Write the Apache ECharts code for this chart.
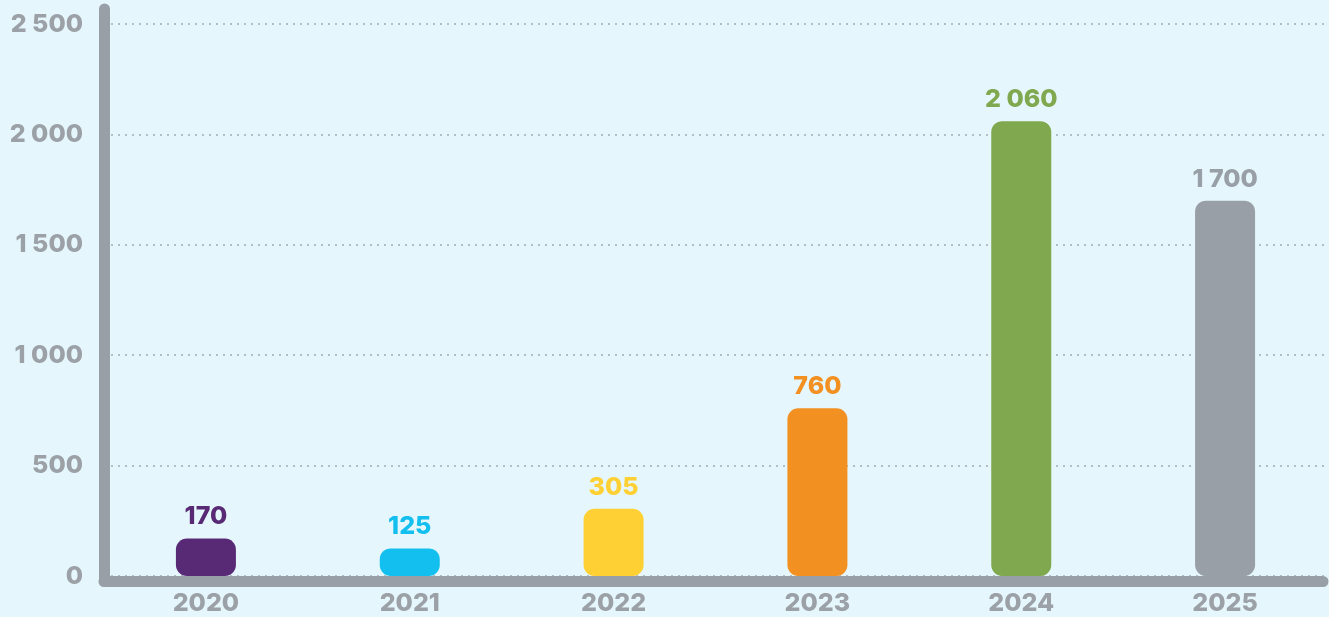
<!DOCTYPE html>
<html>
<head>
<meta charset="utf-8">
<script src="https://cdn.jsdelivr.net/npm/echarts@6/dist/echarts.min.js"></script>
<style>
  html, body { margin: 0; padding: 0; background: #e5f7fc; }
  #chart { width: 1329px; height: 617px; }
</style>
</head>
<body>
<div id="chart"></div>
<script>
const years = ["2020", "2021", "2022", "2023", "2024", "2025"];
const values = [170, 125, 305, 760, 2060, 1700];
const yTicks = [0, 500, 1000, 1500, 2000, 2500];

const barColors = ["#582a76", "#13bfee", "#ffd033", "#f29022", "#80a84f", "#989fa6"];
const axisGray = "#989fa6";
const textGray = "#9ba1a7";
const font = "Inter, 'Open Sans', sans-serif";

function spaced(v) {
  return String(v).replace(/\B(?=(\d{3})+(?!\d))/g, "\u00a0");
}

const chart = echarts.init(document.getElementById("chart"));

// frame lines drawn on a second grid so the y axis runs a bit above 2 500
function frameLine() {
  return { show: true, lineStyle: { color: axisGray, width: 11, cap: "round" } };
}

chart.setOption({
  backgroundColor: "#e5f7fc",
  textStyle: { fontFamily: font },
  grid: [
    { left: 104, right: 2, top: 24, bottom: 41 },
    { left: 104, right: 6, top: 9, bottom: 36 },
  ],
  xAxis: [
    {
      type: "category",
      gridIndex: 0,
      data: years,
      axisLine: { show: false },
      axisTick: { show: false },
      axisLabel: {
        color: textGray,
        fontSize: 25,
        fontWeight: 800,
        fontFamily: font,
        margin: 15,
      },
    },
    {
      type: "value",
      gridIndex: 1,
      min: 0,
      max: 1,
      axisLine: frameLine(),
      axisTick: { show: false },
      axisLabel: { show: false },
      splitLine: { show: false },
    },
  ],
  yAxis: [
    {
      type: "value",
      gridIndex: 0,
      min: yTicks[0],
      max: yTicks[yTicks.length - 1],
      interval: yTicks[1] - yTicks[0],
      axisLine: { show: false },
      axisTick: { show: false },
      axisLabel: {
        color: textGray,
        fontSize: 25,
        fontWeight: 800,
        fontFamily: font,
        margin: 21,
        formatter: spaced,
      },
      splitLine: {
        lineStyle: { color: "#a3acb2", width: 1.5, type: [2, 5] },
      },
    },
    {
      type: "value",
      gridIndex: 1,
      min: 0,
      max: 1,
      axisLine: frameLine(),
      axisTick: { show: false },
      axisLabel: { show: false },
      splitLine: { show: false },
    },
  ],
  series: [
    {
      type: "bar",
      xAxisIndex: 0,
      yAxisIndex: 0,
      barWidth: 60,
      data: values.map((v, i) => ({
        value: v,
        itemStyle: { color: barColors[i], borderRadius: 11 },
        label: { color: barColors[i] },
      })),
      label: {
        show: true,
        position: "top",
        distance: 9,
        fontSize: 25,
        fontWeight: 800,
        fontFamily: font,
        formatter: (p) => spaced(p.value),
      },
    },
  ],
});
</script>
</body>
</html>
